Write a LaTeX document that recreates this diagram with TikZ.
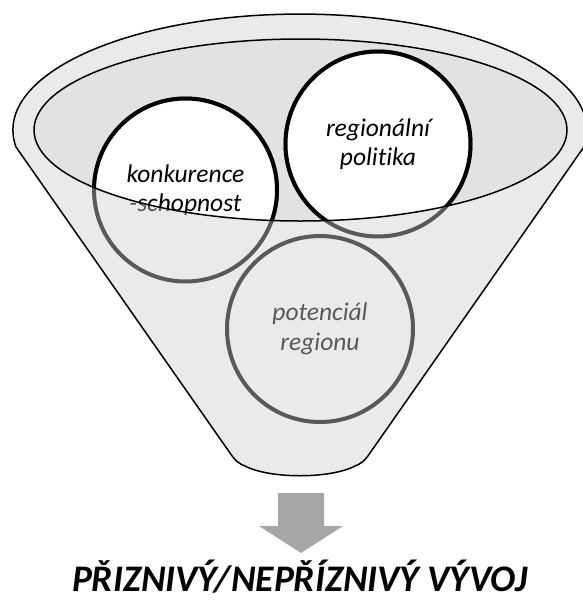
\documentclass[tikz,border=0pt]{standalone}
\usepackage{fontspec}
\setmainfont{Carlito}[Ligatures=NoCommon]
\definecolor{ringgray}{HTML}{EAEAEA}
\definecolor{innergray}{HTML}{E2E2E2}
\definecolor{darkgray}{HTML}{595959}
\definecolor{arrowgray}{HTML}{A6A6A6}
\tikzset{
  ballgray/.style={circle, draw=darkgray, line width=4pt, text=darkgray, align=center,
    font=\itshape\fontsize{25.5}{29.5}\selectfont, inner sep=0pt},
  ballwhite/.style={circle, draw=black, fill=white, line width=4pt, text=black, align=center,
    font=\itshape\fontsize{25.5}{29.5}\selectfont, inner sep=0pt},
  outline/.style={draw=black, line width=1.5pt}
}
\begin{document}
\begin{tikzpicture}[x=1pt, y=-1pt]
\useasboundingbox (0,0) rectangle (583,600);
% funnel body
\path[outline, fill=ringgray, line join=round]
  (16,147) arc[start angle=171.6, end angle=368.4, x radius=287, y radius=116]
  -- (370,453) .. controls (364,462) and (360,464) .. (355,466)
  .. controls (330,479) and (270,479) .. (245,466)
  .. controls (240,464) and (236,462) .. (230,453) -- cycle;
% inner rim
\path[fill=innergray] (300.5,130) ellipse [x radius=266.5, y radius=91];
% circles below the rim (grey)
\node[ballgray, minimum size=183pt] (k) at (185.5,190) {konkurence\\-schopnost};
\node[ballgray, minimum size=185pt] (r) at (378,144) {regionální\\politika};
\node[ballgray, minimum size=186pt] (p) at (320,329) {potenciál\\regionu};
% parts above the rim (white)
\begin{scope}
  \clip (300.5,130) ellipse [x radius=266.5, y radius=91];
  \node[ballwhite, minimum size=183pt] (k2) at (185.5,190) {konkurence\\-schopnost};
  \node[ballwhite, minimum size=185pt] (r2) at (378,144) {regionální\\politika};
\end{scope}
\draw[outline] (300.5,130) ellipse [x radius=266.5, y radius=91];
% arrow
\fill[arrowgray] (278,493) -- (324,493) -- (324,526) -- (343,526) -- (301,553)
  -- (259,526) -- (278,526) -- cycle;
% result
\node[anchor=base, font=\bfseries\itshape\fontsize{37.5}{40}\selectfont, inner sep=0pt]
  (out) at (300,591) {PŘIZNIVÝ/NEPŘÍZNIVÝ VÝVOJ};
\end{tikzpicture}
\end{document}
